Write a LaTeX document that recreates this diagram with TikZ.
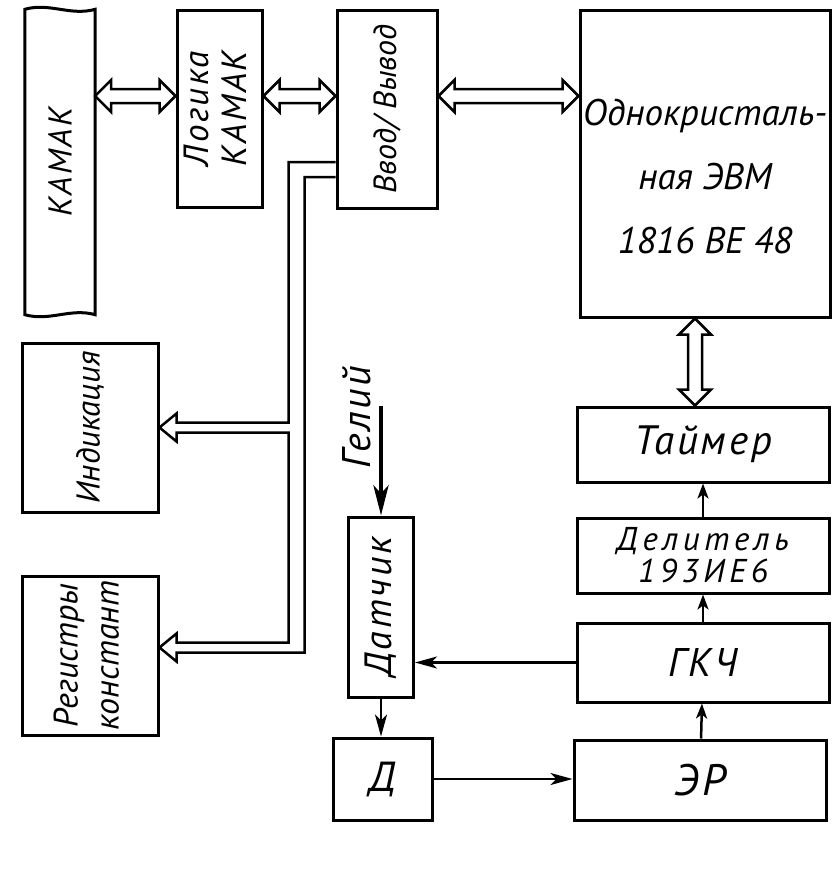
\documentclass[tikz,border=0pt]{standalone}
\usepackage{fontspec}
\setmainfont{PT Sans}
\newfontfamily\wide{PT Sans}[LetterSpace=7]
\newfontfamily\wider{PT Sans}[LetterSpace=14]
\usepackage{graphicx}
\usetikzlibrary{arrows.meta, calc, positioning}

% hollow double-headed bus arrow between two named coordinates
\newcommand\busarrow[2]{%
  \draw[bus] (#1)
    -- ($(#1)!16pt!(#2)!16pt!90:(#2)$) -- ($(#1)!16pt!(#2)!7pt!90:(#2)$)
    -- ($(#2)!16pt!(#1)!7pt!-90:(#1)$) -- ($(#2)!16pt!(#1)!16pt!-90:(#1)$)
    -- (#2)
    -- ($(#2)!16pt!(#1)!16pt!90:(#1)$) -- ($(#2)!16pt!(#1)!7pt!90:(#1)$)
    -- ($(#1)!16pt!(#2)!7pt!-90:(#2)$) -- ($(#1)!16pt!(#2)!16pt!-90:(#2)$)
    -- cycle;}

\begin{document}
\begin{tikzpicture}[
  x=1pt, y=-1pt,
  blk/.style={draw, line width=3pt, inner sep=0pt, align=center},
  txt/.style={font=\fontsize{#1}{#1}\selectfont\itshape},
  wtxt/.style={font=\wide\fontsize{#1}{#1}\selectfont\itshape},
  bus/.style={line width=2.5pt, line join=miter, fill=white},
  wire/.style={line width=2.5pt, line join=miter},
  arr/.style={-{Stealth[length=22pt, width=12pt, inset=6pt]}, line width=2.5pt},
  shortarr/.style={-{Stealth[length=15pt, width=11pt, inset=4pt]}, line width=2.5pt},
  gas/.style={-{Stealth[length=30pt, width=15pt, inset=8pt]}, line width=4.5pt}
]
\useasboundingbox (0,0) rectangle (838,878);

% Upper row
\node[minimum width=70pt, minimum height=305pt, inner sep=0pt, wtxt=33] (kamak) at (60,162)
  {\rotatebox{90}{КАМАК}};
\draw[line width=3pt] (kamak.south west) -- (kamak.north west)
  .. controls +(25,-7) and +(-25,7) .. (kamak.north east) -- (kamak.south east)
  .. controls +(-25,-7) and +(25,7) .. (kamak.south west) -- cycle;
\node[blk, minimum width=85pt, minimum height=197pt, font=\wide\fontsize{35}{38}\selectfont\itshape] (logic) at (219.5,108.5)
  {\rotatebox{90}{\begin{tabular}{@{}c@{}}Логика\\КАМАК\end{tabular}}};
\node[blk, minimum width=100pt, minimum height=198pt, txt=32] (io) at (387,109)
  {\rotatebox{90}{Ввод/ Вывод}};
\node[blk, minimum width=250pt, minimum height=307pt] (evm) at (705,163.5) {};
\node[font=\fontsize{37}{64}\selectfont\itshape, align=center] (evmtxt) at ([yshift=-13pt]evm.center)
  {Однокристаль-\\ная ЭВМ\\1816 ВЕ 48};

% Right column
\node[blk, minimum width=252pt, minimum height=75pt, wtxt=41] (timer) at (703,444.5) {Таймер};
\node[blk, minimum width=252pt, minimum height=75pt, font=\wider\fontsize{33}{32}\selectfont\itshape] (divider) at (703,555.5)
  {Делитель\\193ИЕ6};
\node[blk, minimum width=252pt, minimum height=79pt, wtxt=40] (gkch) at (703,662.5) {ГКЧ};
\node[blk, minimum width=252pt, minimum height=80pt, wtxt=44] (er) at (700,780) {ЭР};

% Sensor chain
\node[blk, minimum width=65pt, minimum height=180pt, wtxt=38] (sensor) at (381,607)
  {\rotatebox{90}{Датчик}};
\node[blk, minimum width=99pt, minimum height=82pt, txt=42] (det) at (382.5,779) {Д};
\node[rotate=90, wtxt=40] (helium) at (357,417) {Гелий};

% Outputs
\node[blk, minimum width=136pt, minimum height=169pt, txt=33] (ind) at (90,427.5)
  {\rotatebox{90}{Индикация}};
\node[blk, minimum width=136pt, minimum height=159pt, font=\fontsize{34}{41}\selectfont\itshape] (reg) at (90,655.5)
  {\rotatebox{90}{\begin{tabular}{@{}c@{}}Регистры\\констант\end{tabular}}};

% Buses
\coordinate (busy) at (0,96);
\coordinate (k1) at (kamak.east |- busy);
\coordinate (l1) at (logic.west |- busy);
\coordinate (l2) at (logic.east |- busy);
\coordinate (i1) at (io.west |- busy);
\coordinate (i2) at (io.east |- busy);
\coordinate (e1) at (evm.west |- busy);
\busarrow{k1}{l1}
\busarrow{l2}{i1}
\busarrow{i2}{e1}
\coordinate (e2) at ([xshift=-10pt]evm.south);
\coordinate (t2) at (e2 |- timer.north);
\busarrow{e2}{t2}

% Output rails
\coordinate (y1) at (0,162);
\coordinate (y2) at (0,177);
\coordinate (indtip) at (ind.east);
\coordinate (regtip) at ([yshift=8pt]reg.east);
\draw[wire] (io.west |- y1) -| ($(indtip)+(129,-5)$) -- ($(indtip)+(17,-5)$)
  -- ($(indtip)+(17,-14)$) -- (indtip) -- ($(indtip)+(17,14)$) -- ($(indtip)+(17,5)$)
  -| ($(regtip)+(129,-5)$) -- ($(regtip)+(17,-5)$)
  -- ($(regtip)+(17,-14)$) -- (regtip) -- ($(regtip)+(17,14)$) -- ($(regtip)+(17,5)$)
  -- ($(regtip)+(145,5)$) |- (io.west |- y2);

% Signals
\draw[shortarr] (divider) -- (timer);
\draw[shortarr] (gkch) -- (divider);
\draw[shortarr] (er) -- (gkch);
\draw[arr] (gkch.west) -- (gkch.west -| sensor.east);
\draw[arr] (sensor.south) -- (sensor.south |- det.north);
\draw[arr] (det.east) -- (det.east -| er.west);
\coordinate (hein) at ([yshift=110pt]sensor.north);
\draw[gas] (hein) -- (sensor.north);
\end{tikzpicture}
\end{document}
